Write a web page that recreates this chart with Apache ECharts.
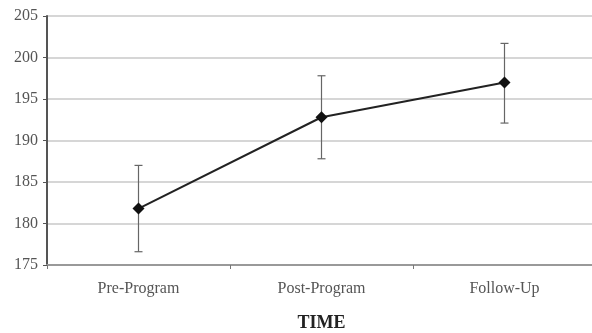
<!DOCTYPE html>
<html>
<head>
<meta charset="utf-8">
<script src="https://cdn.jsdelivr.net/npm/echarts@6/dist/echarts.min.js"></script>
<style>html,body{margin:0;padding:0;background:#fff}#c{width:592px;height:333px}</style>
</head>
<body>
<div id="c"></div>
<script>
const categories = ['Pre-Program', 'Post-Program', 'Follow-Up'];
const means = [181.8, 192.8, 197.0];
const upper = [187.0, 197.8, 201.7];
const lower = [176.6, 187.8, 192.1];
const yTicks = [175, 180, 185, 190, 195, 200, 205];
const xTitle = 'TIME';

const chart = echarts.init(document.getElementById('c'));
const serif = '"Liberation Serif", "DejaVu Serif", serif';
chart.setOption({
  animation: false,
  grid: { left: 47, top: 16, width: 549, height: 249, containLabel: false, outerBoundsMode: 'none' },
  xAxis: {
    type: 'category',
    data: categories,
    name: xTitle,
    nameLocation: 'middle',
    nameGap: 49,
    nameTextStyle: { fontFamily: serif, fontSize: 18, fontWeight: 'bold', color: '#222' },
    axisLine: { lineStyle: { color: '#999', width: 2 } },
    axisTick: { show: true, length: 4, lineStyle: { color: '#777' } },
    axisLabel: { fontFamily: serif, fontSize: 16, color: '#555', margin: 16 }
  },
  yAxis: {
    type: 'value',
    min: yTicks[0],
    max: yTicks[yTicks.length - 1],
    interval: 5,
    axisLine: { show: true, lineStyle: { color: '#555', width: 2 } },
    axisTick: { show: true, length: 4, lineStyle: { color: '#555' } },
    axisLabel: { fontFamily: serif, fontSize: 16, color: '#555', margin: 9 },
    splitLine: { lineStyle: { color: '#c8c8c8', width: 1.5 } }
  },
  series: [
    {
      type: 'custom',
      data: categories.map((c, i) => [i, lower[i], upper[i]]),
      renderItem: function (params, api) {
        const x = api.value(0);
        const lo = api.coord([x, api.value(1)]);
        const hi = api.coord([x, api.value(2)]);
        const hw = 4;
        const st = { stroke: '#666', lineWidth: 1.2, fill: null };
        return {
          type: 'group',
          children: [
            { type: 'line', shape: { x1: hi[0], y1: hi[1], x2: lo[0], y2: lo[1] }, style: st },
            { type: 'line', shape: { x1: hi[0] - hw, y1: hi[1], x2: hi[0] + hw, y2: hi[1] }, style: st },
            { type: 'line', shape: { x1: lo[0] - hw, y1: lo[1], x2: lo[0] + hw, y2: lo[1] }, style: st }
          ]
        };
      },
      z: 2
    },
    {
      type: 'line',
      data: means,
      symbol: 'diamond',
      symbolSize: 12,
      itemStyle: { color: '#111' },
      lineStyle: { color: '#222', width: 2 },
      z: 3
    }
  ]
});
</script>
</body>
</html>
